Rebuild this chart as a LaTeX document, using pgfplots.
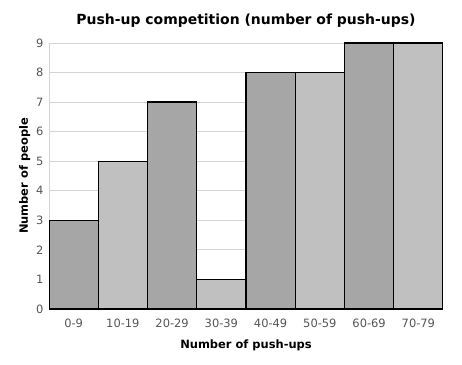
\documentclass[border=0pt]{standalone}
\usepackage{pgfplots}
\pgfplotsset{compat=1.18}
\usepackage{fontspec}
\setmainfont{DejaVu Sans}
\definecolor{darkbar}{HTML}{A6A6A6}
\definecolor{lightbar}{HTML}{C0C0C0}
\definecolor{gridc}{HTML}{D4D4D4}
\definecolor{tickc}{HTML}{555555}
\begin{document}
\begin{tikzpicture}
\begin{axis}[
  at={(0,0)}, anchor=origin,
  scale only axis,
  width=394bp, height=266bp,
  xmin=0, xmax=8, ymin=0, ymax=9,
  axis x line*=bottom, axis y line*=left,
  x axis line style={black, line width=1.6pt, -},
  y axis line style={gridc, line width=1pt, -},
  xtick={0.5,1.5,2.5,3.5,4.5,5.5,6.5,7.5},
  xticklabels={0-9,10-19,20-29,30-39,40-49,50-59,60-69,70-79},
  ytick={0,1,...,9},
  major tick length=0pt,
  ymajorgrids, grid style={gridc, line width=0.9pt},
  tick label style={font=\fontsize{11.5}{13}\selectfont, text=tickc},
  /pgf/number format/assume math mode=true,
  xticklabel style={yshift=-6bp},
  yticklabel style={xshift=-2bp},
  xlabel={\bfseries Number of push-ups},
  ylabel={\bfseries Number of people},
  label style={font=\fontsize{11.5}{13}\selectfont},
  xlabel style={yshift=-6bp},
  ylabel style={yshift=-1bp},
  title={\bfseries Push-up competition (number of push-ups)},
  title style={font=\fontsize{14}{15}\selectfont, yshift=6bp},
]
\addplot[ybar, bar width=1, bar shift=0pt, fill=darkbar, draw=black, line width=1.3pt]
  coordinates {(0.5,3) (2.5,7) (4.5,8) (6.5,9)};
\addplot[ybar, bar width=1, bar shift=0pt, fill=lightbar, draw=black, line width=1.3pt]
  coordinates {(1.5,5) (3.5,1) (5.5,8) (7.5,9)};
\draw[black, line width=1.6pt] (axis cs:0,0) -- (axis cs:8,0);
\end{axis}
\pgfresetboundingbox
\useasboundingbox (-49bp,-56bp) rectangle (413bp,309bp);
\end{tikzpicture}
\end{document}
